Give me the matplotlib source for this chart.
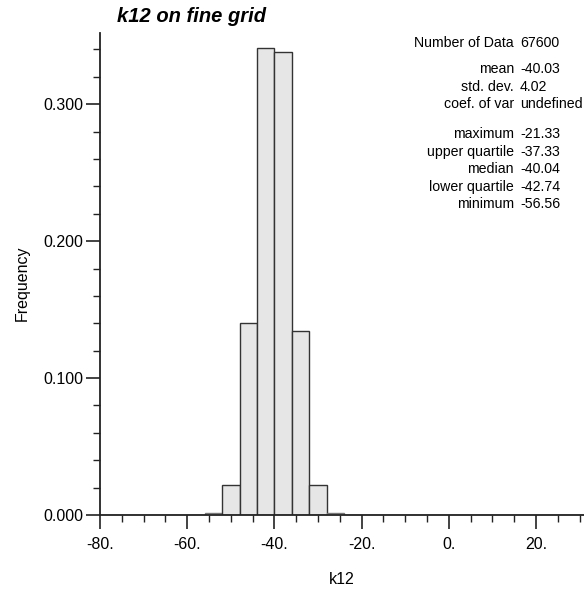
import numpy as np
import matplotlib
matplotlib.use("Agg")
import matplotlib.pyplot as plt
from matplotlib.ticker import MultipleLocator, FixedLocator

plt.rcParams['font.family'] = ['Liberation Sans', 'DejaVu Sans']

# histogram of k12, bin width 4 starting at -80
bin_edges = np.arange(-80, 33, 4)
freq = [0, 0, 0, 0, 0, 0,
        0.0015, 0.022, 0.140, 0.341, 0.338, 0.1345, 0.022, 0.0015,
        0, 0, 0, 0, 0, 0, 0, 0, 0, 0, 0, 0, 0, 0]

x_ticks = [-80, -60, -40, -20, 0, 20]
x_tick_labels = ['-80.', '-60.', '-40.', '-20.', '0.', '20.']
y_ticks = [0.0, 0.1, 0.2, 0.3]
y_tick_labels = ['0.000', '0.100', '0.200', '0.300']

stat_names = ['Number of Data', 'mean', 'std. dev.', 'coef. of var',
              'maximum', 'upper quartile', 'median', 'lower quartile', 'minimum']
stat_values = ['67600', '-40.03', '4.02', 'undefined',
               '-21.33', '-37.33', '-40.04', '-42.74', '-56.56']
stat_rows_px = [43, 69, 87, 104, 134, 152, 169, 187, 204]

W, H = 584, 593
fig = plt.figure(figsize=(W / 100, H / 100), dpi=100)
ax = fig.add_axes([100 / W, 78 / H, 484 / W, 482 / H])

edge_cols = ['#333333' if f > 0.005 else '#777777' for f in freq]
ax.bar(bin_edges[:-1], freq, width=4, align='edge', color='#e6e6e6',
       edgecolor=edge_cols, linewidth=1.0)

ax.set_xlim(-80, 31)
ax.set_ylim(0, 0.352)

for s in ('top', 'right'):
    ax.spines[s].set_visible(False)
for s in ('left', 'bottom'):
    ax.spines[s].set_color('#222222')
    ax.spines[s].set_linewidth(1.3)

ax.xaxis.set_major_locator(FixedLocator(x_ticks))
ax.set_xticklabels(x_tick_labels)
ax.xaxis.set_minor_locator(MultipleLocator(5))
ax.yaxis.set_major_locator(FixedLocator(y_ticks))
ax.set_yticklabels(y_tick_labels)
ax.yaxis.set_minor_locator(MultipleLocator(0.02))

ax.tick_params(axis='both', which='major', length=10, width=1.2, color='#222222',
               labelsize=11.5, pad=2)
ax.tick_params(axis='both', which='minor', length=5, width=1.0, color='#222222')
ax.tick_params(axis='x', which='major', pad=6)

ax.set_xlabel('k12', fontsize=11.5)
ax.set_ylabel('Frequency', fontsize=11.5)
ax.xaxis.set_label_coords(0.5, -(580 - 515) / 482, transform=ax.transAxes)
ax.yaxis.set_label_coords(-(100 - 22) / 484, 0.48, transform=ax.transAxes)
ax.xaxis.label.set_va('center')
ax.yaxis.label.set_va('center')

fig.text(117 / W, 1 - 17 / H, 'k12 on fine grid', fontsize=14.5,
         fontweight='bold', fontstyle='italic', va='center', ha='left')

for name, val, ypx in zip(stat_names, stat_values, stat_rows_px):
    fig.text(514 / W, 1 - ypx / H, name, fontsize=10.2, ha='right', va='center')
    fig.text(520 / W, 1 - ypx / H, val, fontsize=10.2, ha='left', va='center')

fig.savefig('out.png', dpi=100)
